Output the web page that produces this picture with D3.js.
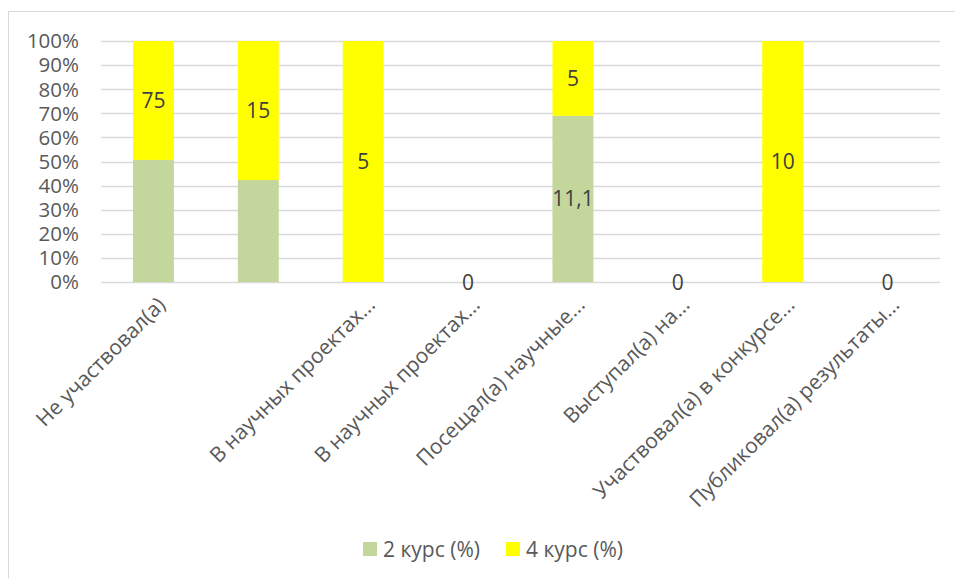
<!DOCTYPE html>
<html><head><meta charset="utf-8">
<script src="https://cdn.jsdelivr.net/npm/d3@7"></script>
<style>
html,body{margin:0;padding:0;background:#fff;}
svg{display:block;font-family:"Open Sans","Segoe UI",sans-serif;}
</style></head>
<body>
<svg id="chart" width="955" height="578"></svg>
<script>
const categories = ["Не участвовал(а)", "", "В научных проектах...", "В научных проектах...", "Посещал(а) научные...", "Выступал(а) на...", "Участвовал(а) в конкурсе...", "Публиковал(а) результаты..."];
const course2 = [77, 11, 0, 0, 11.1, 0, 0, 0];
const course4 = [75, 15, 5, 0, 5, 0, 10, 0];
const course2Labels = [null, null, null, null, "11,1", null, null, null];
const course4Labels = ["75", "15", "5", "0", "5", "0", "10", "0"];
const yTicks = [0, 0.1, 0.2, 0.3, 0.4, 0.5, 0.6, 0.7, 0.8, 0.9, 1];
const seriesNames = ["2 курс (%)", "4 курс (%)"];
const colors = ["#c3d69b", "#ffff00"];

(function () {
const svg = d3.select("#chart");
const textColor = "#595959", gridColor = "#d9d9d9";
const fs = 21;

// chart area border
svg.append("rect").attr("x", 8.5).attr("y", 11.5).attr("width", 1000).attr("height", 1000)
  .attr("fill", "none").attr("stroke", gridColor).attr("stroke-width", 1);

const plotL = 101, plotR = 940, plotT = 41, plotB = 282;
const x = d3.scaleBand().domain(d3.range(categories.length)).range([plotL, plotR]);
const y = d3.scaleLinear().domain([0, 1]).range([plotB, plotT]);
const barW = x.bandwidth() * 0.39;

// gridlines
svg.append("g").selectAll("line").data(yTicks).join("line")
  .attr("x1", plotL).attr("x2", plotR)
  .attr("y1", d => Math.round(y(d)) + 0.5).attr("y2", d => Math.round(y(d)) + 0.5)
  .attr("stroke", gridColor).attr("stroke-width", 1.3);

// y tick labels
svg.append("g").selectAll("text").data(yTicks).join("text")
  .attr("x", 79).attr("y", d => y(d)).attr("dy", "0.36em")
  .attr("text-anchor", "end").attr("font-size", fs - 0.5).attr("fill", textColor)
  .text(d => d3.format(".0%")(d));

// stacked 100% data
const rows = categories.map((c, i) => {
  const total = course2[i] + course4[i];
  const a = total ? course2[i] / total : 0;
  const b = total ? course4[i] / total : 0;
  return {i, segs: [
    {s: 0, y0: 0, y1: a, label: course2Labels[i]},
    {s: 1, y0: a, y1: a + b, label: course4Labels[i]}
  ]};
});

const g = svg.append("g");
rows.forEach(r => {
  const cx = x(r.i) + x.bandwidth() / 2;
  r.segs.forEach(sg => {
    if (sg.y1 > sg.y0) {
      g.append("rect").attr("x", cx - barW / 2).attr("width", barW)
        .attr("y", y(sg.y1)).attr("height", y(sg.y0) - y(sg.y1))
        .attr("fill", colors[sg.s]);
    }
  });
  r.segs.forEach(sg => {
    if (sg.label != null) {
      g.append("text").attr("x", cx).attr("y", (y(sg.y0) + y(sg.y1)) / 2)
        .attr("dy", "0.36em").attr("text-anchor", "middle")
        .attr("font-size", fs).attr("fill", "#404040").text(sg.label);
    }
  });
});

// x axis labels
svg.append("g").selectAll("text").data(categories.map((c, i) => ({c, i}))).join("text")
  .attr("transform", d => `translate(${x(d.i) + x.bandwidth() / 2 + 2},${plotB + 13}) rotate(-45)`)
  .attr("text-anchor", "end").attr("dy", "0.75em")
  .attr("font-size", fs).attr("fill", textColor)
  .text(d => d.c);

// legend
const legend = svg.append("g");
const legendItems = [{x: 363, n: 0}, {x: 506, n: 1}];
legendItems.forEach(it => {
  legend.append("rect").attr("x", it.x).attr("y", 542).attr("width", 14).attr("height", 14)
    .attr("fill", colors[it.n]);
  legend.append("text").attr("x", it.x + 20).attr("y", 549).attr("dy", "0.36em")
    .attr("font-size", fs).attr("fill", textColor).text(seriesNames[it.n]);
});
})();
</script>
</body></html>
